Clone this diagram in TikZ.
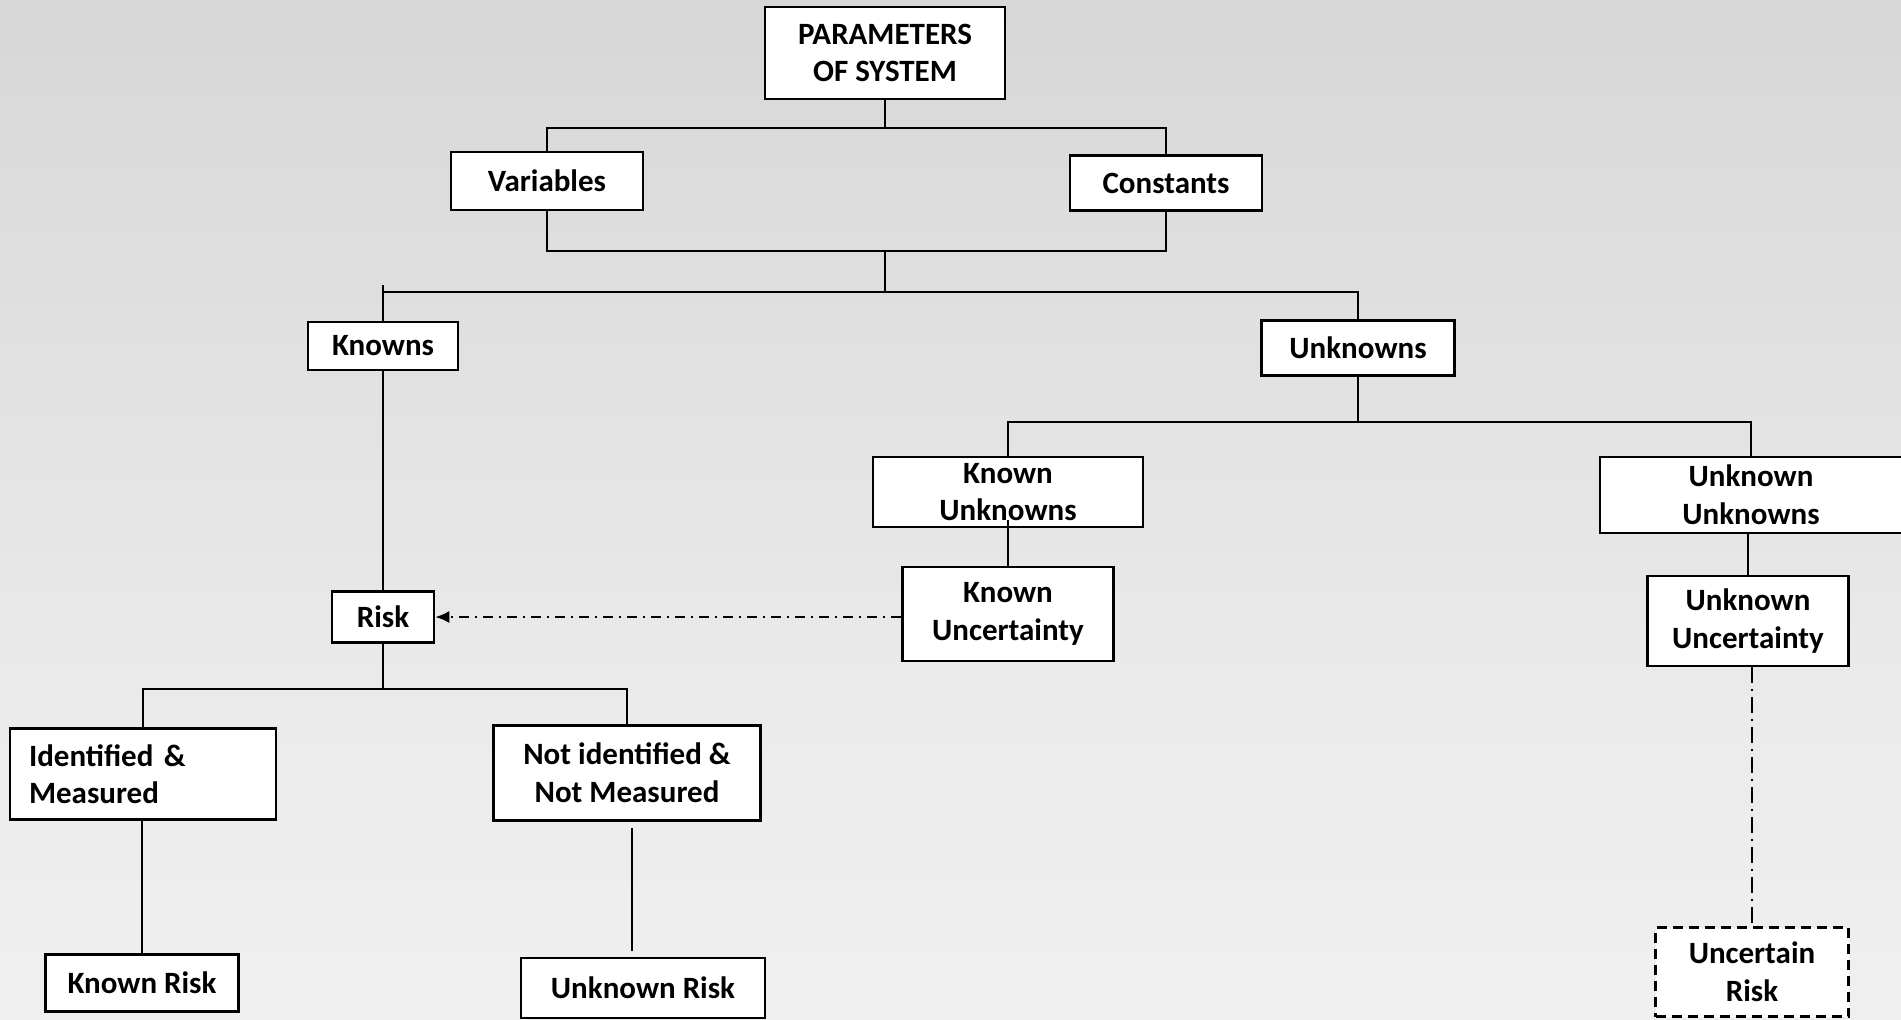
\documentclass[tikz,border=0pt]{standalone}
\usepackage{fontspec}
\setmainfont{Carlito}
\usetikzlibrary{arrows.meta}
\definecolor{bgA}{RGB}{247,247,247}
\definecolor{bgB}{RGB}{235,235,235}
\definecolor{bgC}{RGB}{212,212,212}
\definecolor{bgD}{RGB}{201,201,201}
\pgfdeclareverticalshading{bgshade}{100bp}{color(0bp)=(bgA); color(40bp)=(bgB); color(80bp)=(bgC); color(100bp)=(bgD)}
\tikzset{
  box/.style={draw=black, line width=1.3pt, fill=white, inner sep=0pt, align=center,
    font=\fontsize{15.5}{18.8}\selectfont\bfseries},
  wh/.style 2 args={minimum width=#1*0.5pt, minimum height=#2*0.5pt},
  conn/.style={draw=black, line width=1pt},
  dashdotline/.style={draw=black, line width=1pt, dash pattern=on 5pt off 3pt on 1pt off 3pt},
  vdashdot/.style={draw=black, line width=1pt, dash pattern=on 8pt off 3pt on 1pt off 3pt},
  dashedbox/.style={box, dash pattern=on 5pt off 3pt, line width=1.5pt}
}
\begin{document}
\begin{tikzpicture}[x=0.5pt, y=-0.5pt]
\shade[shading=bgshade] (0,0) rectangle (1901,1019);
\useasboundingbox (0,0) rectangle (1901,1019);

\node[box, wh={240}{92}] (params) at (885,53) {PARAMETERS\\OF SYSTEM};
\node[box, wh={192}{58}] (var) at (547,181) {Variables};
\node[box, wh={192}{55}] (const) at (1166,183) {Constants};
\node[box, wh={150}{48}] (known) at (383,346) {Knowns};
\node[box, wh={193}{55}] (unknown) at (1358,348) {Unknowns};
\node[box, wh={270}{70}] (ku) at (1008,492) {Known\\Unknowns};
\node[box, wh={302}{76}] (uu) at (1751,495) {Unknown\\Unknowns};
\node[box, wh={211}{94}] (kunc) at (1008,614) {Known\\Uncertainty};
\node[box, wh={201}{90}] (uunc) at (1748,621) {Unknown\\Uncertainty};
\node[dashedbox, wh={193}{89}] (urisk) at (1752,972) {Uncertain\\Risk};
\node[box, wh={102}{51}] (risk) at (383,617) {Risk};
\node[box, wh={266}{91}, align=left, text width=114pt, inner xsep=9.5pt] (ident) at (143,774) {\mbox{Identified \&}\\Measured};
\node[box, wh={267}{95}] (notid) at (627,773) {Not identified \&\\Not Measured};
\node[box, wh={193}{57}] (krisk) at (142,983) {Known Risk};
\node[box, wh={244}{60}] (ukrisk) at (643,988) {Unknown Risk};

\coordinate (j1) at (885,128);
\coordinate (j2) at (885,251);
\coordinate (j3) at (885,292);
\coordinate (j4) at (1358,422);
\coordinate (j5) at (383,689);
\coordinate (kt) at (383,285);

\draw[conn] (params.south) -- (j1);
\draw[conn] (var.north) |- (j1) -| (const.north);
\draw[conn] (var.south) |- (j2) -| (const.south);
\draw[conn] (j2) -- (j3);
\draw[conn] (kt) -- (known.north);
\draw[conn] (kt |- j3) -- (j3) -| (unknown.north);
\draw[conn] (unknown.south) -- (j4);
\draw[conn] (ku.north) |- (j4) -| (uu.north);
\draw[conn] ([yshift=4pt]ku.south) -- (kunc.north);
\draw[conn] (uunc.north |- uu.south) -- (uunc.north);
\draw[vdashdot] (urisk.north |- uunc.south) -- (urisk.north);
\draw[dashdotline, -{Latex[length=7pt,width=6pt]}] (kunc.west |- risk.east) -- (risk.east);
\draw[conn] (known.south) -- (risk.north);
\draw[conn] (risk.south) -- (j5);
\draw[conn] (ident.north) |- (j5) -| (notid.north);
\draw[conn] (krisk.north |- ident.south) -- (krisk.north);
\draw[conn] ([xshift=2.5pt,yshift=-3pt]notid.south) -- ([xshift=2.5pt,yshift=3pt]notid.south |- ukrisk.north);
\end{tikzpicture}
\end{document}
